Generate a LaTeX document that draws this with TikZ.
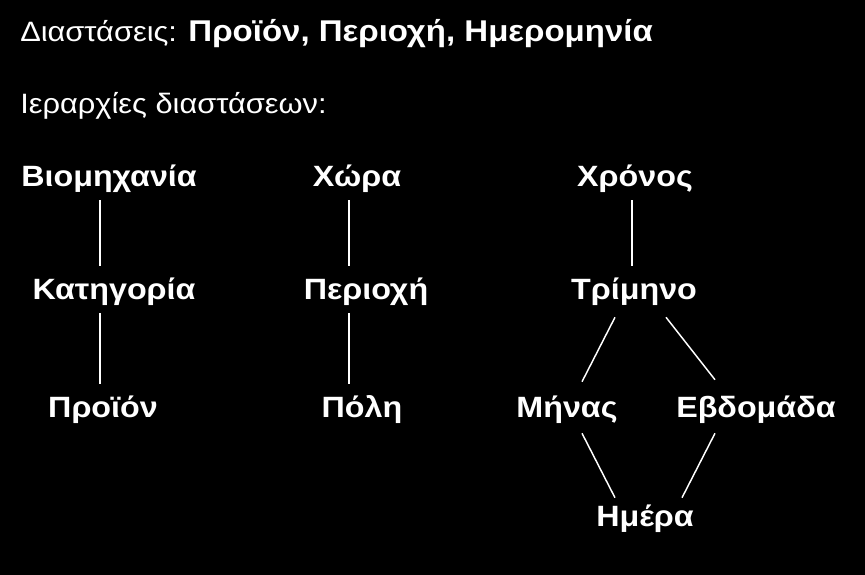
\documentclass[tikz,border=0pt]{standalone}
\usepackage{fontspec}
\setmainfont[FakeStretch=1.1]{Liberation Sans}

\tikzstyle{heading}=[font=\fontsize{21}{25}\selectfont, text=white, anchor=base west, inner sep=0pt]
\tikzstyle{level}=[font=\bfseries\fontsize{22}{26}\selectfont, text=white, anchor=base,
                   inner xsep=0pt, inner ysep=6pt, text height=18.75pt, text depth=4.5pt]
\tikzstyle{edge} = [draw, white, line width=1.1pt]

\begin{document}
\begin{tikzpicture}[x=0.75pt, y=-0.75pt]
    \fill[black] (0,0) rectangle (865,575);
    \useasboundingbox (0,0) rectangle (865,575);

    % headings
    \node[heading] (diast) at (20,41)
        {Διαστάσεις: {\bfseries\fontsize{22.5}{25}\selectfont Προϊόν, Περιοχή, Ημερομηνία}};
    \node[heading] (ierar) at (20,113) {Ιεραρχίες διαστάσεων:};

    % levels of the three hierarchies
    \foreach \pos/\name/\txt in {{(109,186)/biom/Βιομηχανία}, {(114,299)/kat/Κατηγορία},
                                 {(103,417)/proion/Προϊόν},
                                 {(357,186)/xwra/Χώρα}, {(366,299)/perioxi/Περιοχή},
                                 {(362,417)/poli/Πόλη},
                                 {(635,186)/xronos/Χρόνος}, {(634,299)/trim/Τρίμηνο},
                                 {(567,417)/minas/Μήνας}, {(756,417)/evdom/Εβδομάδα},
                                 {(645,526)/imera/Ημέρα}}
        \node[level] (\name) at \pos {\txt};

    % columns of the straight chains
    \coordinate (colA) at (100,0);
    \coordinate (colB) at (349,0);
    \coordinate (colC) at (632,0);
    \foreach \col/\source/\dest in {colA/biom/kat, colA/kat/proion,
                                    colB/xwra/perioxi, colB/perioxi/poli,
                                    colC/xronos/trim}
        \path[edge] (\col |- \source.south) -- (\col |- \dest.north);

    % lattice of the time dimension
    \foreach \source/\sh/\dest/\dh in {trim/{-19,4}/minas/{15,-2}, trim/{32,4}/evdom/{-41,-4},
                                       minas/{15,2}/imera/{-30,5}, evdom/{-41,2}/imera/{37,5}}
        \path[edge] ([shift={(\sh)}]\source.south) -- ([shift={(\dh)}]\dest.north);
\end{tikzpicture}
\end{document}
